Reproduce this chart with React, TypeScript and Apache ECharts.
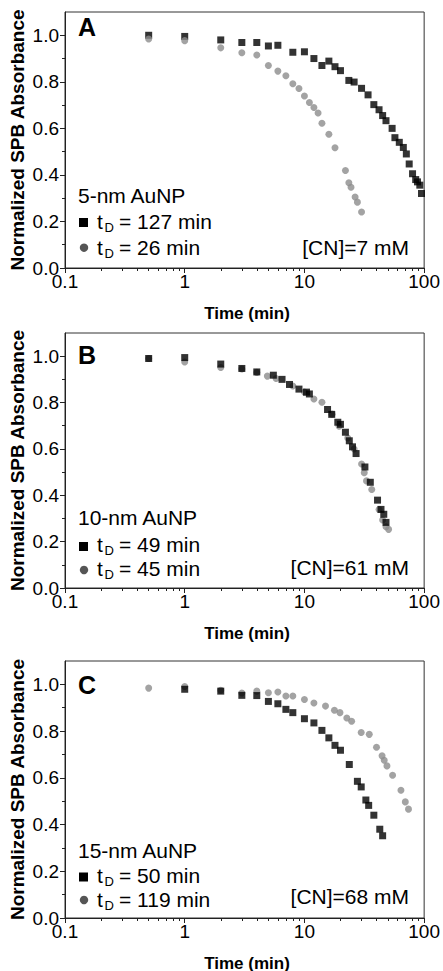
import React, { useEffect, useRef } from "react";
import * as echarts from "echarts";

// ---------- axis ticks / labels ----------
const xMinorTicks = [0.2, 0.3, 0.4, 0.5, 0.6, 0.7, 0.8, 0.9, 2, 3, 4, 5, 6, 7, 8, 9, 20, 30, 40, 50, 60, 70, 80, 90];
const yMajorTicks = [0, 0.2, 0.4, 0.6, 0.8, 1.0];
const yMinorTicks = [0.1, 0.3, 0.5, 0.7, 0.9];
const xTitle = "Time (min)";
const yTitle = "Normalized SPB Absorbance";

// ---------- annotations ----------
const panelLetters = ["A", "B", "C"];
const particleSizes = ["5-nm AuNP", "10-nm AuNP", "15-nm AuNP"];
const tdSquares = ["127", "49", "50"];
const tdCircles = ["26", "45", "119"];
const cyanideLabels = ["[CN]=7 mM", "[CN]=61 mM", "[CN]=68 mM"];

// ---------- Panel A data ----------
const timeA_sq = [0.5, 1, 2, 3, 4, 5, 6, 8, 10, 12, 14, 16, 18, 20, 23.5, 26, 30, 34, 38, 42, 45, 48, 54, 57, 62, 67, 71, 75, 80, 85, 88, 92, 95];
const absA_sq = [1.0, 0.995, 0.98, 0.969, 0.969, 0.954, 0.957, 0.927, 0.929, 0.9, 0.87, 0.889, 0.865, 0.848, 0.806, 0.799, 0.772, 0.744, 0.702, 0.68, 0.655, 0.633, 0.6, 0.56, 0.54, 0.518, 0.49, 0.447, 0.405, 0.38, 0.37, 0.356, 0.32];
const timeA_ci = [0.5, 1, 2, 3, 4, 5, 6, 7, 8, 9, 10, 11, 12, 13, 14, 16, 18, 22, 23.5, 24.5, 26.5, 27.7, 30];
const absA_ci = [0.984, 0.977, 0.946, 0.925, 0.915, 0.87, 0.846, 0.826, 0.792, 0.771, 0.739, 0.711, 0.69, 0.666, 0.622, 0.575, 0.517, 0.419, 0.366, 0.347, 0.305, 0.283, 0.241];

// ---------- Panel B data ----------
const timeB_sq = [0.5, 1, 2, 3, 4, 5.5, 6.5, 7.5, 9, 10.4, 11, 15.6, 16.9, 19, 20, 22, 23.7, 25.2, 27, 32, 35.5, 40.8, 43.6, 46, 48];
const absB_sq = [0.99, 0.994, 0.966, 0.947, 0.932, 0.918, 0.9, 0.878, 0.858, 0.845, 0.837, 0.77, 0.749, 0.715, 0.706, 0.672, 0.635, 0.609, 0.58, 0.522, 0.456, 0.379, 0.339, 0.318, 0.283];
const timeB_ci = [0.5, 1, 2, 3, 4, 4.9, 5.8, 8, 10, 12, 14, 17, 19.5, 23, 26, 30, 31.6, 33, 36.5, 42, 45, 48, 50.5];
const absB_ci = [0.99, 0.975, 0.951, 0.945, 0.93, 0.914, 0.904, 0.871, 0.845, 0.815, 0.801, 0.75, 0.698, 0.647, 0.6, 0.535, 0.497, 0.462, 0.425, 0.339, 0.293, 0.264, 0.253];

// ---------- Panel C data ----------
const timeC_sq = [1, 2, 3, 4, 5, 6, 7, 8, 10, 12, 14, 16, 18, 20, 23.7, 27.7, 29.8, 32.6, 34.4, 38, 42.6, 45];
const absC_sq = [0.979, 0.971, 0.953, 0.952, 0.927, 0.917, 0.893, 0.879, 0.853, 0.835, 0.803, 0.771, 0.739, 0.718, 0.657, 0.585, 0.561, 0.505, 0.482, 0.44, 0.38, 0.352];
const timeC_ci = [0.5, 1, 2, 3, 4, 5, 6, 7, 8, 10, 12, 15, 17.8, 19.8, 22.6, 24.8, 29.8, 34.8, 40, 44.5, 46.4, 48.9, 54.5, 64, 69.6, 74];
const absC_ci = [0.984, 0.991, 0.975, 0.963, 0.971, 0.964, 0.967, 0.95, 0.95, 0.935, 0.92, 0.907, 0.889, 0.879, 0.856, 0.842, 0.794, 0.786, 0.731, 0.694, 0.675, 0.651, 0.611, 0.547, 0.497, 0.466];

const squareTimes = [timeA_sq, timeB_sq, timeC_sq];
const squareAbs = [absA_sq, absB_sq, absC_sq];
const circleTimes = [timeA_ci, timeB_ci, timeC_ci];
const circleAbs = [absA_ci, absB_ci, absC_ci];
// which set is drawn on top in each panel
const circlesOnTop = [true, false, false];

const zip = (xs: number[], ys: number[]) => xs.map((x, i) => [x, ys[i]]);

const FONT = "'Liberation Sans', Arial, Helvetica, sans-serif";
const AXIS_COLOR = "#222";
const GRAY = "#8c8c8c";

// layout (pixels)
const PLOT_LEFT = 65;
const PLOT_WIDTH = 360;
const layout = [
  { top: 12, height: 256, letterY: 27, sizeY: 195, sqY: 221, ciY: 247, sqMarkY: 222.5, ciMarkY: 247.7, cnY: 247, xTitleY: 313 },
  { top: 333, height: 255, letterY: 355, sizeY: 517, sqY: 544, ciY: 568, sqMarkY: 546.5, ciMarkY: 570, cnY: 567, xTitleY: 633 },
  { top: 661, height: 257, letterY: 685, sizeY: 850, sqY: 875, ciY: 899, sqMarkY: 877, ciMarkY: 900, cnY: 896, xTitleY: 963 },
];

function buildOption() {
  const grid: any[] = [];
  const xAxis: any[] = [];
  const yAxis: any[] = [];
  const series: any[] = [];
  const graphic: any[] = [];

  layout.forEach((L, i) => {
    grid.push({
      left: PLOT_LEFT,
      top: L.top,
      width: PLOT_WIDTH,
      height: L.height,
      show: true,
      borderColor: "#333",
      borderWidth: 1,
      backgroundColor: "transparent",
    });
    // main logarithmic time axis
    xAxis.push({
      type: "log",
      logBase: 10,
      gridIndex: i,
      min: 0.1,
      max: 100,
      position: "bottom",
      axisLine: { show: true, onZero: false, lineStyle: { color: AXIS_COLOR, width: 1 } },
      axisTick: { show: true, inside: false, length: 5, lineStyle: { color: AXIS_COLOR } },
      axisLabel: {
        show: true,
        margin: 4,
        fontSize: 19,
        fontFamily: FONT,
        color: "#000",
        formatter: (v: number) => (v < 0.95 ? v.toFixed(1) : String(Math.round(v))),
      },
      splitLine: { show: false },
      minorTick: { show: false },
    });
    // auxiliary axis (log10 units) carrying only the log minor ticks
    xAxis.push({
      type: "value",
      gridIndex: i,
      min: -1,
      max: 2,
      position: "bottom",
      axisLine: { show: false, onZero: false },
      axisTick: {
        show: true,
        inside: false,
        length: 3,
        customValues: xMinorTicks.map((t) => Math.log10(t)),
        lineStyle: { color: AXIS_COLOR },
      },
      axisLabel: { show: false },
      splitLine: { show: false },
    });
    yAxis.push({
      type: "value",
      gridIndex: i,
      min: 0,
      max: 1.1,
      position: "left",
      axisLine: { show: true, onZero: false, lineStyle: { color: AXIS_COLOR, width: 1 } },
      axisTick: { show: true, inside: false, length: 5, customValues: yMajorTicks, lineStyle: { color: AXIS_COLOR } },
      axisLabel: {
        show: true,
        margin: 6,
        fontSize: 19,
        fontFamily: FONT,
        color: "#000",
        customValues: yMajorTicks,
        formatter: (v: number) => v.toFixed(1),
      },
      splitLine: { show: false },
    });
    yAxis.push({
      type: "value",
      gridIndex: i,
      min: 0,
      max: 1.1,
      position: "left",
      axisLine: { show: false, onZero: false },
      axisTick: { show: true, inside: false, length: 3, customValues: yMinorTicks, lineStyle: { color: AXIS_COLOR } },
      axisLabel: { show: false },
      splitLine: { show: false },
    });

    const sq = {
      type: "scatter",
      xAxisIndex: 2 * i,
      yAxisIndex: 2 * i,
      symbol: "rect",
      symbolSize: 7,
      itemStyle: { color: "#000" },
      data: zip(squareTimes[i], squareAbs[i]),
      silent: true,
    };
    const ci = {
      type: "scatter",
      xAxisIndex: 2 * i,
      yAxisIndex: 2 * i,
      symbol: "circle",
      symbolSize: 7,
      itemStyle: { color: GRAY },
      data: zip(circleTimes[i], circleAbs[i]),
      silent: true,
    };
    if (circlesOnTop[i]) series.push(sq, ci);
    else series.push(ci, sq);

    graphic.push({
      type: "text",
      x: 78,
      y: L.letterY,
      style: { text: panelLetters[i], fontSize: 25, fontWeight: "bold", fontFamily: FONT, fill: "#000", align: "left", verticalAlign: "middle" },
    });
    graphic.push({
      type: "text",
      x: 78,
      y: L.sizeY,
      style: { text: particleSizes[i], fontSize: 21, fontFamily: FONT, fill: "#000", align: "left", verticalAlign: "middle" },
    });
    graphic.push({
      type: "rect",
      shape: { x: 79, y: L.sqMarkY - 4.5, width: 9, height: 9 },
      style: { fill: "#000" },
    });
    graphic.push({
      type: "circle",
      shape: { cx: 84, cy: L.ciMarkY, r: 4.2 },
      style: { fill: "#555" },
    });
    [
      [L.sqY, tdSquares[i]],
      [L.ciY, tdCircles[i]],
    ].forEach(([ly, val]) => {
      const y = ly as number;
      graphic.push({
        type: "text",
        x: 97,
        y,
        style: { text: "t", fontSize: 21, fontFamily: FONT, fill: "#000", align: "left", verticalAlign: "middle" },
      });
      graphic.push({
        type: "text",
        x: 104.5,
        y: y + 6.5,
        style: { text: "D", fontSize: 13, fontFamily: FONT, fill: "#000", align: "left", verticalAlign: "middle" },
      });
      graphic.push({
        type: "text",
        x: 119,
        y,
        style: { text: "= " + val + " min", fontSize: 21, fontFamily: FONT, fill: "#000", align: "left", verticalAlign: "middle" },
      });
    });
    graphic.push({
      type: "text",
      x: 409,
      y: L.cnY,
      style: { text: cyanideLabels[i], fontSize: 21, fontFamily: FONT, fill: "#000", align: "right", verticalAlign: "middle" },
    });
    graphic.push({
      type: "text",
      x: 247,
      y: L.xTitleY,
      style: { text: xTitle, fontSize: 17, fontWeight: "bold", fontFamily: FONT, fill: "#000", align: "center", verticalAlign: "middle" },
    });
    graphic.push({
      type: "text",
      x: 17,
      y: L.top + L.height / 2,
      rotation: Math.PI / 2,
      style: { text: yTitle, fontSize: 19, fontWeight: "bold", fontFamily: FONT, fill: "#000", align: "center", verticalAlign: "middle" },
    });
  });

  return {
    animation: false,
    backgroundColor: "#ffffff",
    grid,
    xAxis,
    yAxis,
    series,
    graphic,
  };
}

export default function App() {
  const ref = useRef<HTMLDivElement>(null);
  useEffect(() => {
    if (!ref.current) return;
    const chart = echarts.init(ref.current, undefined, { renderer: "svg" });
    chart.setOption(buildOption() as any);
    return () => chart.dispose();
  }, []);
  return (
    <div
      ref={ref}
      style={{ position: "absolute", left: 0, top: 0, width: 443, height: 971, background: "#fff" }}
    />
  );
}
